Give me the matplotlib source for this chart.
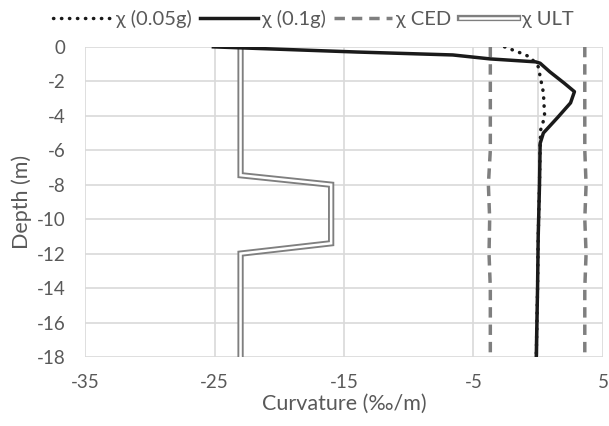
import matplotlib.pyplot as plt
from matplotlib.legend_handler import HandlerTuple

plt.rcParams['font.family'] = ['Lato', 'DejaVu Sans']
plt.rcParams['axes.unicode_minus'] = False

# chi (0.05g) - dotted
x_005 = [-2.6, -1.2, -0.6, 0.0, 0.4, 0.5, 0.2, 0.15, 0.1, 0.0, -0.05, -0.1, -0.15]
y_005 = [0, -0.4, -0.6, -1.15, -2.65, -4.05, -4.8, -5.6, -8, -11, -14, -16, -18]

# chi (0.1g) - solid
x_01 = [-25.1, -14.0, -6.6, -3.7, -0.2, 0.15, 0.9, 2.0, 2.8, 2.5, 1.5, 0.4, 0.15,
        0.1, 0.0, -0.05, -0.1, -0.15]
y_01 = [0, -0.3, -0.47, -0.7, -0.87, -0.95, -1.45, -2.1, -2.6, -3.25, -4.1, -5.0, -5.6,
        -8, -11, -14, -16, -18]

# chi CED - dashed (negative and positive branch)
y_ced = [0, -2, -4, -6, -8, -10, -12, -14, -16, -18]
x_ced_neg = [-3.7, -3.7, -3.7, -3.7, -3.85, -3.75, -3.8, -3.7, -3.7, -3.7]
x_ced_pos = [3.6, 3.6, 3.6, 3.6, 3.7, 3.6, 3.7, 3.6, 3.6, 3.6]

# chi ULT - double line
x_ult = [-23, -23, -16, -16, -23, -23]
y_ult = [0, -7.45, -8.0, -11.4, -12.0, -18]

fig, ax = plt.subplots(figsize=(6.09, 4.26), dpi=100)
fig.subplots_adjust(left=0.14, right=0.99, top=0.89, bottom=0.162)

grid_c = '#d9d9d9'
txt_c = '#595959'
ax.set_xlim(-35, 5)
ax.set_ylim(-18, 0)
ax.set_xticks([-35, -25, -15, -5, 5])
ax.set_yticks(list(range(0, -19, -2)))
ax.grid(True, color=grid_c, lw=1.2)
ax.set_axisbelow(True)
ax.axvline(0, color=grid_c, lw=1.2, zorder=0.5)
for s in ax.spines.values():
    s.set_visible(False)
ax.tick_params(length=0, labelsize=13.5, colors=txt_c)
ax.tick_params(axis='y', pad=14)
ax.tick_params(axis='x', pad=12)

ult_a, = ax.plot(x_ult, y_ult, color='#7f7f7f', lw=4.5, solid_joinstyle='miter')
ult_b, = ax.plot(x_ult, y_ult, color='white', lw=1.8, solid_joinstyle='miter')
ced, = ax.plot(x_ced_neg, y_ced, color='#7f7f7f', lw=2.5, dashes=(3, 2))
ax.plot(x_ced_pos, y_ced, color='#7f7f7f', lw=2.5, dashes=(3, 2))
l01, = ax.plot(x_01, y_01, color='#1a1a1a', lw=2.5)
l005, = ax.plot(x_005, y_005, color='#1a1a1a', lw=2.5, dashes=(0.1, 2.2),
                dash_capstyle='round')

leg = fig.legend([l005, l01, ced, (ult_a, ult_b)],
                 ['χ (0.05g)', 'χ (0.1g)', 'χ CED', 'χ ULT'],
                 handler_map={tuple: HandlerTuple(ndivide=1)},
                 loc='upper center', bbox_to_anchor=(0.515, 1.02), ncol=4,
                 frameon=False, fontsize=14.5, handlelength=2.9,
                 handletextpad=0.2, columnspacing=0.4)
for t in leg.get_texts():
    t.set_color(txt_c)

ax.set_xlabel('Curvature (‰/m)', fontsize=15.5, color=txt_c, labelpad=2)
ax.set_ylabel('Depth (m)', fontsize=15.5, color=txt_c, labelpad=4)

fig.savefig('out.png', dpi=100)
